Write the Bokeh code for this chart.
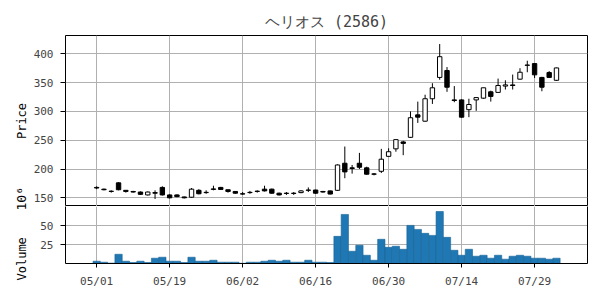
import math
from bokeh.plotting import figure
from bokeh.layouts import column, row
from bokeh.models import Range1d, FixedTicker, ColumnDataSource, LinearAxis
from bokeh.core.properties import value
from bokeh.embed import file_html
from bokeh.resources import INLINE

# ---- data (2025 trading days from 05/01) ----
dates = (["05/%02d" % d for d in [1, 2, 7, 8, 9, 12, 13, 14, 15, 16, 19, 20, 21, 22, 23, 26, 27, 28, 29, 30]]
         + ["06/%02d" % d for d in [2, 3, 4, 5, 6, 9, 10, 11, 12, 13, 16, 17, 18, 19, 20, 23, 24, 25, 26, 27, 30]]
         + ["07/%02d" % d for d in [1, 2, 3, 4, 7, 8, 9, 10, 11, 14, 15, 16, 17, 18, 22, 23, 24, 25, 28, 29, 30, 31]]
         + ["08/01"])

opens = [168, 165, 161.5, 176, 163, 161, 160, 155, 159, 168, 155, 155, 151.5, 151, 163, 159.5,
         164.5, 168, 164, 161, 157, 159, 161.5, 165, 165, 158, 157.5, 157.5, 159, 163, 163.5, 161,
         162, 163, 210, 202, 210, 202, 191.5, 196, 222, 235, 247, 255, 294, 283, 322, 359,
         371, 320, 320, 303, 320, 323, 334, 333, 344, 346, 356, 380, 383, 359, 367.5, 354]
highs = [170, 166, 163, 177, 163, 162, 161, 161, 163, 170, 156, 156, 152, 167, 165, 163,
         171, 169, 164, 161.5, 160, 162, 163, 171, 166, 159, 160, 160, 163, 168, 164, 162,
         162.5, 208, 239, 207, 228, 204, 193, 235, 236, 251, 249, 300, 317, 329, 349, 417,
         377, 344, 321, 322, 325, 341, 336, 357, 354, 364, 375, 388, 384, 360, 370, 376]
lows = [165, 163, 159, 163, 159, 159, 155, 154, 148, 154, 149, 151, 149, 150, 156, 157,
        163, 164, 159, 157, 155, 157, 159, 161, 157, 154, 155, 155, 158, 160, 157, 159,
        156, 162, 184, 192, 200, 190, 189, 193, 221, 230, 224, 254, 280, 282, 313, 355,
        334, 316, 289, 290, 301, 322, 317, 332, 338, 338, 355, 368, 358, 335, 358, 353]
closes = [167, 164, 161, 164, 161, 160, 156, 160, 158, 155, 150, 152, 150, 165, 157, 159,
          165.5, 164.5, 161, 158, 156.5, 159.5, 161, 162, 158, 155, 158, 158, 162, 163.5, 158, 160,
          156.5, 207, 195, 201, 203, 191, 191, 217, 230, 251, 244.5, 289, 290, 322, 341, 395,
          342, 319, 290, 312, 324, 341, 326, 345, 346, 345, 368, 380.5, 363.5, 342, 359, 375.5]
volumes = [3.0, 1.7, 0.5, 12.2, 3.0, 1.3, 3.0, 1.3, 7.0, 8.3, 3.0, 3.0, 1.3, 8.3, 3.0, 3.0,
           4.3, 1.7, 1.7, 1.7, 0.3, 1.7, 1.7, 3.0, 4.3, 3.0, 4.3, 1.7, 1.7, 4.3, 1.7, 1.7,
           1.3, 35.9, 64.9, 16.2, 24.1, 10.9, 4.3, 32.0, 21.4, 22.8, 18.8, 50.4, 45.1, 39.9, 37.2, 68.8,
           34.6, 17.5, 10.9, 18.8, 9.6, 10.9, 7.0, 10.9, 5.7, 9.6, 10.9, 9.6, 7.0, 7.0, 5.7, 7.0]
price_ticks = [150, 200, 250, 300, 350, 400]
volume_ticks = [25, 50]
x_tick_idx = [0, 10, 20, 30, 40, 50, 60]
axis_titles = ["Price", "10⁶", "Volume"]

idx = list(range(len(dates)))
src = ColumnDataSource(dict(
    x=idx, o=opens, h=highs, l=lows, c=closes, v=volumes,
    top=[max(a, b) for a, b in zip(opens, closes)],
    bot=[min(a, b) for a, b in zip(opens, closes)],
    fill=["white" if c >= o else "black" for o, c in zip(opens, closes)],
))

FONT = "DejaVu Sans Mono"
GRID = "#b0b0b0"
X0, X1 = -4.27, 67.25
xr = Range1d(X0, X1)
LEFT_W = 30

# ---- strip on the left carrying the y-axis titles ----
pl = figure(width=LEFT_W, height=300, x_range=Range1d(0, LEFT_W), y_range=Range1d(0, 300),
            output_backend="svg", toolbar_location=None,
            min_border=0, min_border_left=0, min_border_right=0, min_border_top=0,
            min_border_bottom=0)
pl.axis.visible = False
pl.grid.visible = False
pl.outline_line_color = None
pl.background_fill_color = "white"
pl.border_fill_color = "white"
lab_src = ColumnDataSource(dict(
    x=[21, 21, 21], y=[300 - 120.5, 300 - 210, 300 - 280], t=axis_titles,
    align=["center", "left", "left"], size=["12px", "13px", "12px"]))
pl.text(x="x", y="y", text="t", angle=math.pi / 2, text_align="align",
        text_baseline="middle", text_font=value(FONT), text_font_size="size",
        text_color="black", source=lab_src)

# ---- price panel ----
p1 = figure(frame_width=522, frame_height=171, x_range=xr, y_range=Range1d(134.9, 431.8),
            output_backend="svg", toolbar_location=None,
            min_border_left=63 - LEFT_W, min_border_right=15, min_border_top=35,
            min_border_bottom=0, title="ヘリオス (2586)")
p1.title.align = "center"
p1.title.text_font = FONT
p1.title.text_font_size = "15px"
p1.title.text_font_style = "normal"
p1.xaxis.visible = False
p1.xgrid.ticker = FixedTicker(ticks=x_tick_idx)
p1.yaxis.ticker = FixedTicker(ticks=price_ticks)
p1.outline_line_color = "black"
p1.outline_line_width = 1

p1.segment(x0="x", y0="l", x1="x", y1="h", source=src, line_color="black", line_width=1)
p1.vbar(x="x", width=0.6, top="top", bottom="bot", fill_color="fill", line_color="black",
        line_width=1, source=src)

# ---- volume panel ----
p2 = figure(frame_width=522, frame_height=57, x_range=xr, y_range=Range1d(0, 75.4),
            output_backend="svg", toolbar_location=None,
            min_border_left=63 - LEFT_W, min_border_right=15, min_border_top=0,
            min_border_bottom=37)
p2.outline_line_color = None
p2.vbar(x="x", width=1.0, top="v", bottom=0, source=src, fill_color="#1f77b4",
        line_color="#1a6496", line_width=0.6)
p2.xaxis.ticker = FixedTicker(ticks=x_tick_idx)
p2.xaxis.major_label_overrides = {i: dates[i] for i in x_tick_idx}
p2.yaxis.ticker = FixedTicker(ticks=volume_ticks)
right_ax = LinearAxis(ticker=FixedTicker(ticks=[]), major_label_text_font_size="0px",
                      axis_line_color="black", major_tick_line_color=None,
                      minor_tick_line_color=None)
p2.add_layout(right_ax, "right")

for p in (p1, p2):
    p.background_fill_color = "white"
    p.border_fill_color = "white"
    p.xgrid.grid_line_color = GRID
    p.ygrid.grid_line_color = GRID
    p.xgrid.grid_line_width = 1
    p.ygrid.grid_line_width = 1
    for ax in p.xaxis + p.yaxis:
        if ax is right_ax:
            continue
        ax.axis_line_color = "black" if p is p2 else None
        ax.major_tick_line_color = "black"
        ax.major_tick_out = 5
        ax.major_tick_in = 0
        ax.minor_tick_line_color = None
        ax.major_label_text_font = FONT
        ax.major_label_text_font_size = "11px"
        ax.major_label_standoff = 7

p2.xaxis.major_tick_out = 4
p2.xaxis.major_label_standoff = 7

layout = row(pl, column(p1, p2, spacing=0), spacing=0)
open("out.html", "w").write(file_html(layout, INLINE))
